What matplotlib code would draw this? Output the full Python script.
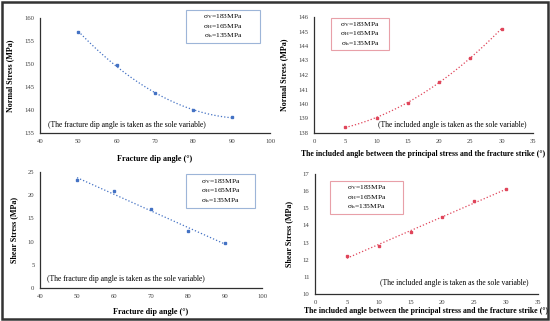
import numpy as np
import matplotlib.pyplot as plt
from matplotlib.patches import Rectangle

plt.rcParams['font.family'] = 'Liberation Serif'
plt.rcParams['mathtext.fontset'] = 'stix'

# data
dip_angle = [50, 60, 70, 80, 90]
dip_normal = [157.0, 149.7, 143.7, 139.9, 138.4]
dip_shear = [23.2, 21.0, 17.0, 12.2, 9.7]

inc_angle = [5, 10, 15, 20, 25, 30]
inc_normal = [138.4, 139.05, 140.1, 141.5, 143.2, 145.2]
inc_shear = [12.2, 12.8, 13.6, 14.5, 15.4, 16.1]

stress_text = "σ$_\\mathrm{V}$=183MPa\nσ$_\\mathrm{H}$=165MPa\nσ$_\\mathrm{h}$=135MPa"
blue = '#4472C4'
red = '#E0455A'

W, H = 550, 321
fig = plt.figure(figsize=(5.5, 3.21), dpi=100)


def box(l, r, t, b):
    return [l / W, 1 - b / H, (r - l) / W, (b - t) / H]


def panel(rect, x, y, deg, color, xlim, xticks, ylim, yticks, xlabel, ylabel,
          note, note_xy, legend_rect, edge, xpad, xsize):
    ax = fig.add_axes(box(*rect))
    ax.plot(x, y, 's', color=color, ms=1.8)
    c = np.polyfit(x, y, deg)
    xs = np.linspace(min(x), max(x), 100)
    ax.plot(xs, np.polyval(c, xs), ':', color=color, lw=0.9)
    ax.set_xlim(*xlim)
    ax.set_ylim(*ylim)
    ax.set_xticks(xticks)
    ax.set_yticks(yticks)
    ax.tick_params(labelsize=4.8, length=0, pad=4, colors='#404040')
    for s in ['top', 'right']:
        ax.spines[s].set_visible(False)
    for s in ['left', 'bottom']:
        ax.spines[s].set_color('#303030')
        ax.spines[s].set_linewidth(0.9)
    ax.set_xlabel(xlabel, fontsize=xsize, fontweight='bold', labelpad=xpad)
    ax.set_ylabel(ylabel, fontsize=5.8, fontweight='bold', labelpad=7)
    ax.text(note_xy[0], note_xy[1], note, transform=ax.transAxes,
            fontsize=5.5, ha='left', va='center')
    l, r, t, b = legend_rect
    fig.patches.append(Rectangle((l / W, 1 - b / H), (r - l) / W, (b - t) / H,
                                 transform=fig.transFigure, fill=False,
                                 ec=edge, lw=0.8))
    fig.text((l + r) / 2 / W, 1 - (t + b) / 2 / H, stress_text,
             fontsize=5.4, ha='center', va='center', linespacing=1.1)
    return ax


panel((40, 270, 18, 133), dip_angle, dip_normal, 2, blue,
      (40, 100), range(40, 101, 10), (135, 160), range(135, 161, 5),
      'Fracture dip angle (°)', 'Normal Stress (MPa)',
      '(The fracture dip angle is taken as the sole variable)', (0.035, 0.07),
      (186, 260, 10, 43), '#9DB5D8', 8, 5.9)

panel((314, 533, 17, 133), inc_angle, inc_normal, 2, red,
      (0, 35), range(0, 36, 5), (138, 146), range(138, 147, 1),
      'The included angle between the principal stress and the fracture strike (°)',
      'Normal Stress (MPa)',
      '(The included angle is taken as the sole variable)', (0.29, 0.07),
      (331, 389, 18, 50), '#E8A0A8', 5, 5.55)

panel((40, 262, 172, 288), dip_angle, dip_shear, 1, blue,
      (40, 100), range(40, 101, 10), (0, 25), range(0, 26, 5),
      'Fracture dip angle (°)', 'Shear Stress (MPa)',
      '(The fracture dip angle is taken as the sole variable)', (0.03, 0.08),
      (186, 255, 174, 208), '#9DB5D8', 7, 5.9)

panel((315, 538, 174, 294), inc_angle, inc_shear, 1, red,
      (0, 35), range(0, 36, 5), (10, 17), range(10, 18, 1),
      'The included angle between the principal stress and the fracture strike (°)',
      'Shear Stress (MPa)',
      '(The included angle is taken as the sole variable)', (0.29, 0.094),
      (330, 403, 181, 214), '#E8A0A8', 1.5, 5.55)

fig.patches.append(Rectangle((0.004, 0.006), 0.992, 0.988, transform=fig.transFigure,
                             fill=False, ec='#333333', lw=1.8))

fig.savefig('out.png', dpi=100)
